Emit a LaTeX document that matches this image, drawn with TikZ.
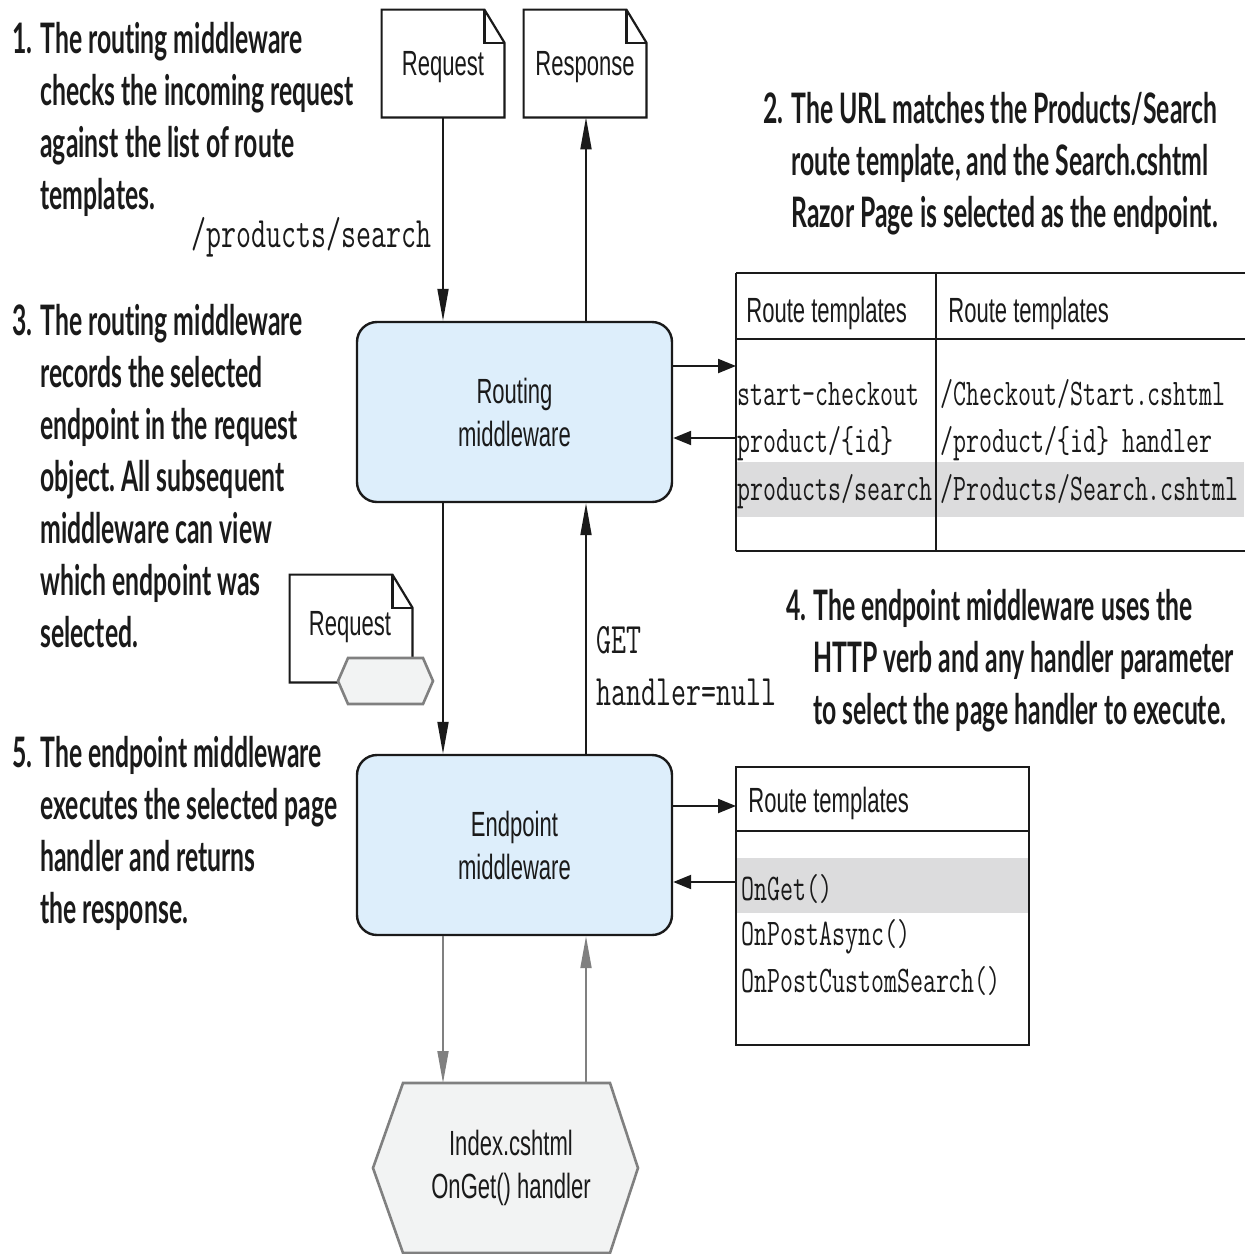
\documentclass[tikz,border=0pt]{standalone}
\usepackage{fontspec}
\usetikzlibrary{arrows.meta,calc}
\frenchspacing
\newfontfamily\labfont[FakeStretch=0.63]{Liberation Sans}
\newfontfamily\monfont[FakeStretch=0.67]{Latin Modern Mono}
\newfontfamily\annfont[FakeStretch=0.59,Ligatures={NoCommon,NoContextual}]{Lato}
\definecolor{boxblue}{HTML}{DDEEFB}
\definecolor{hexgray}{HTML}{F2F3F3}
\definecolor{rowgray}{HTML}{DCDCDD}
\definecolor{arrgray}{HTML}{808080}
\definecolor{linedark}{HTML}{1A1A1A}
\newcommand\docoutline[1]{%
  \draw[docline] (#1.north west) -- ($(#1.north east)+(-20,0)$) -- ($(#1.north east)+(0,33)$) -- (#1.south east) -- (#1.south west) -- cycle;
  \draw[docline] ($(#1.north east)+(-20,0)$) -- ($(#1.north east)+(-20,33)$) -- ($(#1.north east)+(0,33)$);
}
\begin{document}
\begin{tikzpicture}[x=0.5pt,y=-0.5pt,
  ann/.style={font=\annfont\bfseries\frenchspacing\fontsize{21}{26}\selectfont, inner sep=0pt, anchor=base west, text=linedark},
  lab/.style={font=\labfont\fontsize{17.5}{21.5}\selectfont, align=center, text=linedark},
  mono/.style={font=\monfont\fontsize{18.8}{22}\selectfont, inner sep=0pt, anchor=base west, text=linedark},
  monobig/.style={font=\monfont\fontsize{21.7}{26}\selectfont, inner sep=0pt, text=linedark},
  mbox/.style={draw=linedark, line width=1.2pt, fill=boxblue, rounded corners=10pt, minimum width=157.5pt, minimum height=90pt, lab},
  docbox/.style={minimum width=61pt, minimum height=53.5pt, inner sep=0pt},
  doctext/.style={lab, inner sep=0pt, anchor=base},
  docline/.style={draw=linedark, line width=1.1pt},
  hexs/.style={draw=arrgray, fill=hexgray, line width=1.3pt},
  tline/.style={draw=linedark, line width=1.2pt},
  varr/.style={draw=linedark, line width=0.9pt, -{Triangle[length=16pt,width=5.5pt]}},
  harr/.style={draw=linedark, line width=1.1pt, -{Triangle[length=9pt,width=7pt]}},
  garr/.style={draw=arrgray, line width=0.9pt, -{Triangle[length=16pt,width=5.5pt]}},
  ]
\useasboundingbox (0,0) rectangle (1244,1254);
\fill[white] (0,0) rectangle (1244,1254);

\coordinate (colL) at (443,0);
\coordinate (colR) at (586,0);
\coordinate (r1) at (0,366);
\coordinate (r2) at (0,438);
\coordinate (r3) at (0,806);
\coordinate (r4) at (0,882);

% documents
\node[docbox] (req) at (443,63.5) {};
\docoutline{req}
\node[doctext] (reqt) at (443,75) {Request};
\node[docbox] (resp) at (585,63.5) {};
\docoutline{resp}
\node[doctext] (respt) at (585,75) {Response};

% middleware boxes
\node[mbox] (rt) at (514.5,412) {Routing\\middleware};
\node[mbox] (ep) at (514.5,845) {Endpoint\\middleware};

% small request doc with hexagon
\node[docbox] (req2) at (351,628.5) {};
\docoutline{req2}
\node[doctext] (req2t) at (350,635) {Request};
\path[hexs] (348,658) -- (423,658) -- (433,681) -- (423,704) -- (348,704) -- (338,681) -- cycle;

% page handler hexagon
\path[hexs] (403,1083) -- (610,1083) -- (638,1168) -- (610,1253) -- (403,1253) -- (373,1168) -- cycle;
\coordinate (hextop) at (505,1083);
\node[lab] (idx) at (511,1168) {Index.cshtml\\OnGet() handler};

% table 1
\node[inner sep=0pt, minimum width=254pt, minimum height=139pt, anchor=north west] (tbl) at (736,273) {};
\fill[rowgray] (737,462) rectangle (1244,517);
\draw[tline] (736,273) -- (1250,273);
\draw[tline] (736,339) -- (1250,339);
\draw[tline] (736,551) -- (1250,551);
\draw[tline] (736,273) -- (736,551);
\draw[tline] (936,273) -- (936,551);
\node[lab, anchor=base west, inner sep=0pt] (th1) at (746,322) {Route templates};
\node[lab, anchor=base west, inner sep=0pt] (th2) at (948,322) {Route templates};
\node[mono] (c11) at (737,405) {start-checkout};
\node[mono] (c21) at (737,452) {product/\{id\}};
\node[mono] (c31) at (737,500) {products/search};
\node[mono] (c12) at (940,405) {/Checkout/Start.cshtml};
\node[mono] (c22) at (940,452) {/product/\{id\} handler};
\node[mono] (c32) at (940,500) {/Products/Search.cshtml};

% table 2
\node[inner sep=0pt, minimum width=146.5pt, minimum height=139pt, anchor=north west] (tbl2) at (736,767) {};
\fill[rowgray] (737,858) rectangle (1028,913);
\draw[tline] (736,767) rectangle (1029,1045);
\draw[tline] (736,831) -- (1029,831);
\node[lab, anchor=base west, inner sep=0pt] (th3) at (748,812) {Route templates};
\node[mono] (h1) at (741,900) {OnGet()};
\node[mono] (h2) at (741,945) {OnPostAsync()};
\node[mono] (h3) at (741,992) {OnPostCustomSearch()};

% labels
\node[monobig, anchor=base east] (pslab) at (432,247) {/products/search};
\node[monobig, anchor=base west] (get) at (596,653) {GET};
\node[monobig, anchor=base west] (hnull) at (596,705) {handler=null};

% connectors
\draw[varr] (req.south -| colL) -- (rt.north -| colL);
\draw[varr] (rt.north -| colR) -- (resp.south -| colR);
\draw[harr] (rt.east |- r1) -- (tbl.west |- r1);
\draw[harr] (tbl.west |- r2) -- (rt.east |- r2);
\draw[varr] (rt.south -| colL) -- (ep.north -| colL);
\draw[varr] (ep.north -| colR) -- (rt.south -| colR);
\draw[harr] (ep.east |- r3) -- (tbl2.west |- r3);
\draw[harr] (tbl2.west |- r4) -- (ep.east |- r4);
\draw[garr] (ep.south -| colL) -- (hextop -| colL);
\draw[garr] (hextop -| colR) -- (ep.south -| colR);

% annotations
\node[ann] (n1) at (12,53) {1.};
\node[ann] (a1) at (40,53) {\begin{tabular}[t]{@{}l@{}}The routing middleware\\checks the incoming request\\against the list of route\\templates.\end{tabular}};
\node[ann] (n2) at (763,123) {2.};
\node[ann] (a2) at (791,123) {\begin{tabular}[t]{@{}l@{}}The URL matches the Products/Search\\route template, and the Search.cshtml\\Razor Page is selected as the endpoint.\end{tabular}};
\node[ann] (n3) at (12,335) {3.};
\node[ann] (a3) at (40,335) {\begin{tabular}[t]{@{}l@{}}The routing middleware\\records the selected\\endpoint in the request\\object. All subsequent\\middleware can view\\which endpoint was\\selected.\end{tabular}};
\node[ann] (n4) at (786,620) {4.};
\node[ann] (a4) at (813,620) {\begin{tabular}[t]{@{}l@{}}The endpoint middleware uses the\\HTTP verb and any handler parameter\\to select the page handler to execute.\end{tabular}};
\node[ann] (n5) at (12,767) {5.};
\node[ann] (a5) at (40,767) {\begin{tabular}[t]{@{}l@{}}The endpoint middleware\\executes the selected page\\handler and returns\\the response.\end{tabular}};
\end{tikzpicture}
\end{document}
